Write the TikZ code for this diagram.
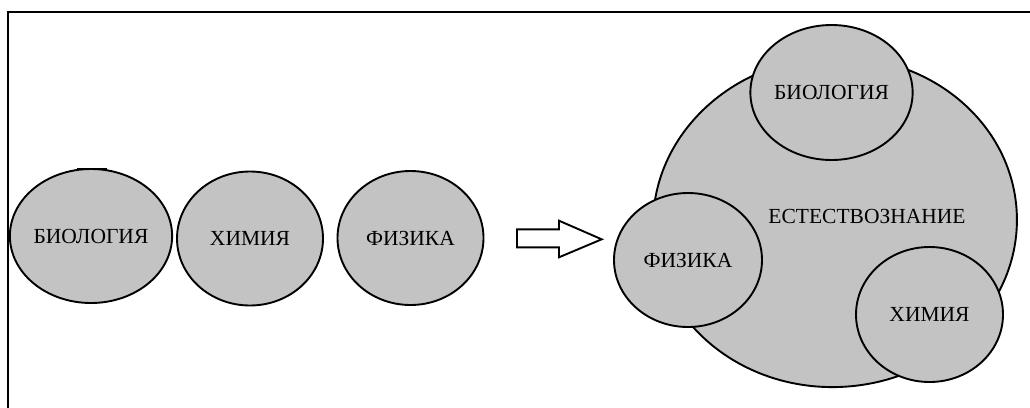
\documentclass[tikz,border=0pt]{standalone}
\usepackage{fontspec}
\setmainfont{Liberation Serif}
\usetikzlibrary{shapes.geometric}
\definecolor{discfill}{HTML}{C3C3C3}
\tikzset{
  disc/.style={ellipse, draw=black, fill=discfill, line width=1.9pt, inner sep=0pt,
    minimum width=146pt, minimum height=134pt, font=\fontsize{21.5}{24}\selectfont},
  lbl/.style={font=\fontsize{21.5}{24}\selectfont, inner sep=0pt}
}
\begin{document}
\begin{tikzpicture}[x=1pt,y=-1pt]
\useasboundingbox (0,0) rectangle (1030,407);
% frame
\draw[line width=2.2pt] (8,408) -- (8,12) -- (1031,12);
% left circles
\node[disc] (bio1) at (91,236) {БИОЛОГИЯ};
\draw[line width=2pt] (77,168.5) -- (107,168.5);
\node[disc] (chem1) at (250,238.5) {ХИМИЯ};
\node[disc] (phys1) at (410.5,238) {ФИЗИКА};
% arrow
\draw[line width=1.9pt, fill=white, line join=miter]
  (517,229.3) -- (559,229.3) -- (559,220.7) -- (601.7,239.3) -- (559,257.3) -- (559,247.3) -- (517,247.3) -- cycle;
% big shape
\draw[line width=1.9pt, fill=discfill, rotate around={4:(835,222)}]
  (835,222) ellipse [x radius=182, y radius=165];
\node[lbl] (nat) at (867,216) {ЕСТЕСТВОЗНАНИЕ};
% right circles
\node[disc, minimum width=147pt, minimum height=135pt] (bio2) at (831.5,92.5) {БИОЛОГИЯ};
\node[disc, minimum width=148pt] (phys2) at (688,260) {ФИЗИКА};
\node[disc, minimum width=147pt, minimum height=135pt] (chem2) at (929.5,314.5) {ХИМИЯ};
\end{tikzpicture}
\end{document}
